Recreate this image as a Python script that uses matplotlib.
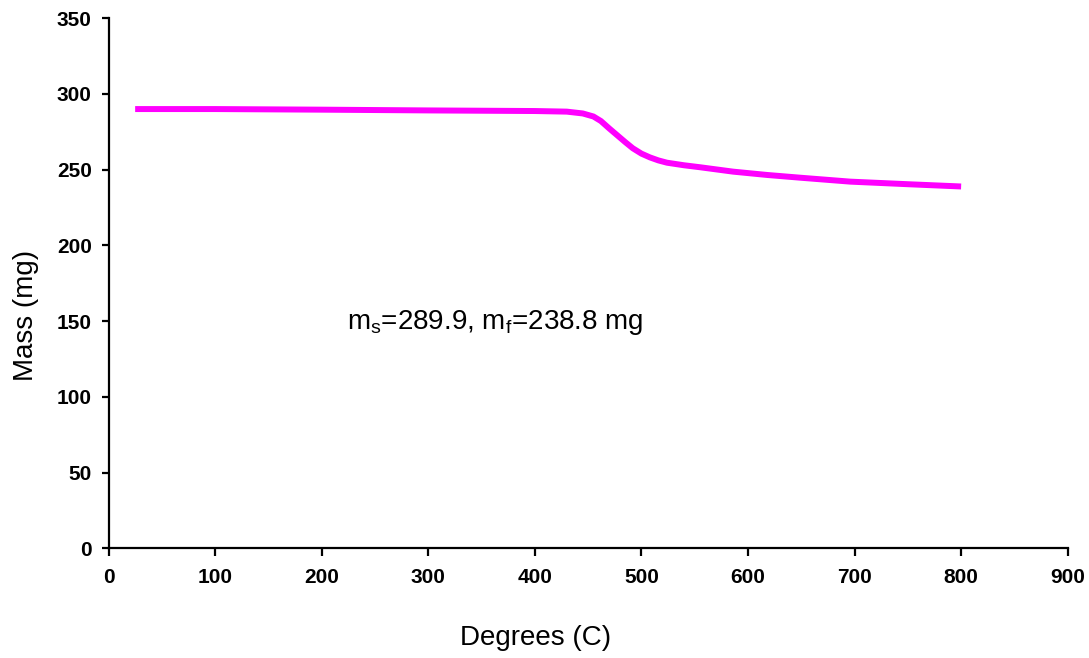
import matplotlib
matplotlib.use("Agg")
import matplotlib.pyplot as plt

# Thermogravimetric run: sample mass versus furnace temperature
temperature_c = [25, 100, 200, 300, 400, 430, 445, 455, 462, 470, 477, 485,
                 492, 500, 508, 516, 524, 540, 555, 586, 618, 649, 696, 750, 800]
mass_mg = [289.9, 289.9, 289.5, 289.0, 288.6, 288.2, 287.0, 285.0, 282.0,
           277.0, 272.8, 268.0, 264.0, 260.5, 258.0, 256.0, 254.5, 252.8,
           251.5, 248.6, 246.4, 244.6, 242.0, 240.3, 238.8]

x_ticks = [0, 100, 200, 300, 400, 500, 600, 700, 800, 900]
y_ticks = [0, 50, 100, 150, 200, 250, 300, 350]

plt.rcParams["mathtext.default"] = "regular"
plt.rcParams["font.family"] = ["Liberation Sans", "DejaVu Sans"]

W, H = 1089, 658
fig = plt.figure(figsize=(W / 100, H / 100), dpi=100)
ax = fig.add_axes([108.5 / W, 1 - 548.3 / H, (1067.7 - 108.5) / W, (548.3 - 18) / H])

ax.plot(temperature_c, mass_mg, color="#FF00FF", linewidth=4.3,
        solid_joinstyle="round", solid_capstyle="butt")

ax.set_xlim(0, 900)
ax.set_ylim(0, 350)
ax.set_xticks(x_ticks)
ax.set_yticks(y_ticks)
ax.set_xticklabels([str(v) for v in x_ticks], fontsize=15, fontweight="bold")
ax.set_yticklabels([str(v) for v in y_ticks], fontsize=15, fontweight="bold")

for side in ("top", "right"):
    ax.spines[side].set_visible(False)
for side in ("left", "bottom"):
    ax.spines[side].set_linewidth(1.6)
    ax.spines[side].set_color("black")

ax.tick_params(axis="x", direction="out", length=5.5, width=1.6, pad=9)
ax.tick_params(axis="y", direction="out", length=5, width=1.6, pad=7)

ax.text(224, 148.7, "m$_s$=289.9, m$_f$=238.8 mg", fontsize=20,
        ha="left", va="center")

fig.text(536 / W, 1 - 638 / H, "Degrees (C)", fontsize=20, ha="center", va="center")
fig.text(26 / W, 1 - 315 / H, "Mass (mg)", fontsize=20, rotation=90,
         ha="center", va="center")

fig.savefig("out.png", dpi=100, facecolor="white")
